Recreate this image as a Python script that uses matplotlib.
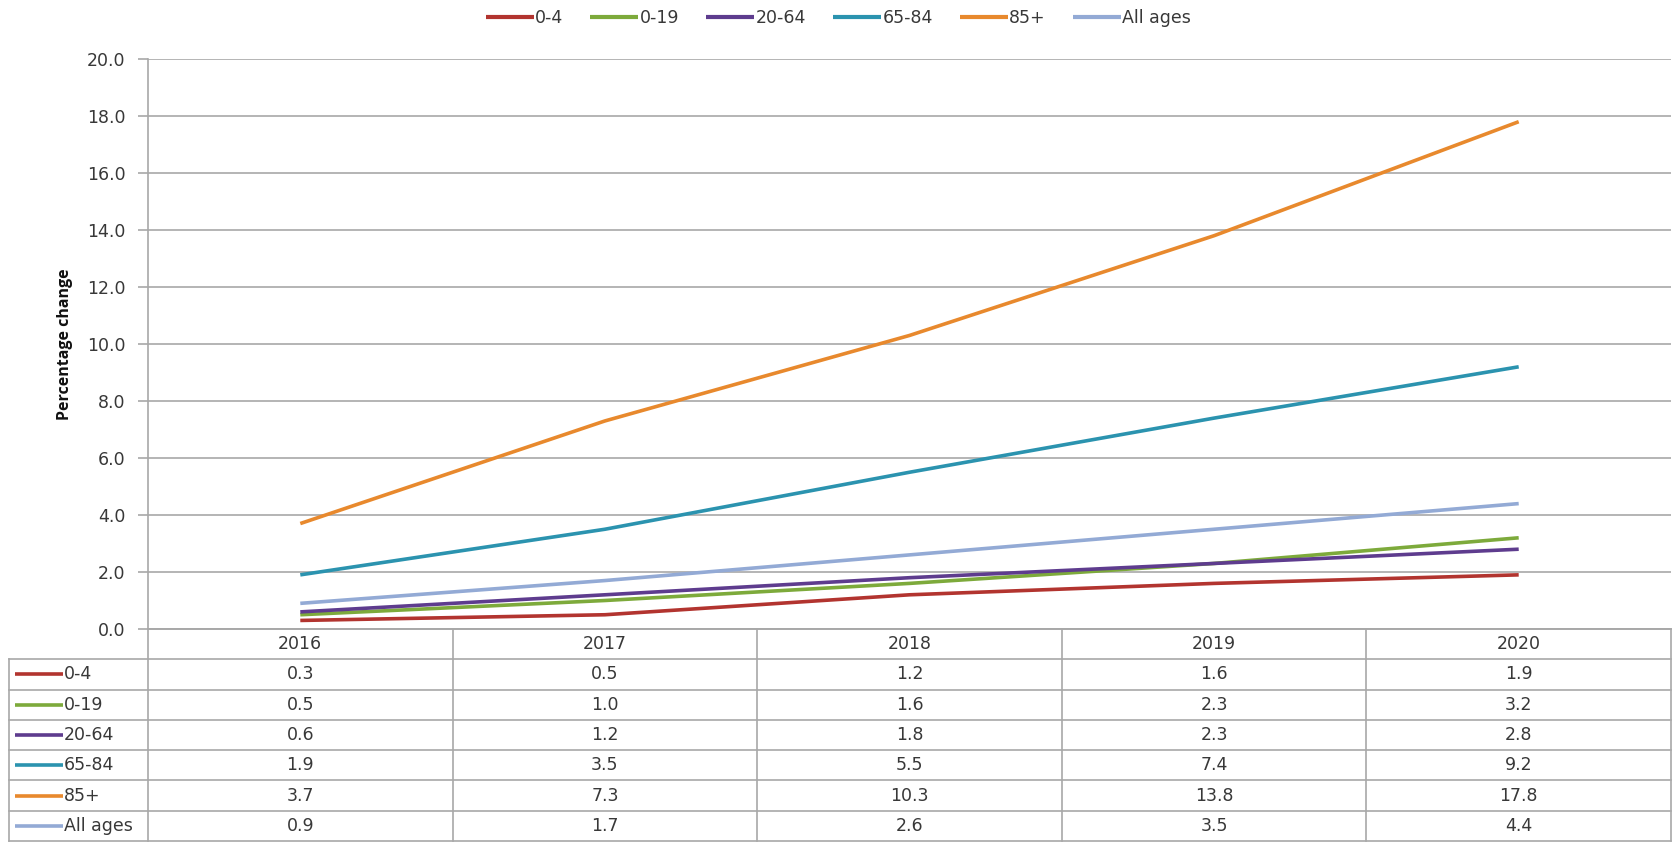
import matplotlib
matplotlib.use("Agg")
import matplotlib.pyplot as plt

# Percentage change in population by age group
years = ["2016", "2017", "2018", "2019", "2020"]
groups = ["0-4", "0-19", "20-64", "65-84", "85+", "All ages"]
v_0_4 = [0.3, 0.5, 1.2, 1.6, 1.9]
v_0_19 = [0.5, 1.0, 1.6, 2.3, 3.2]
v_20_64 = [0.6, 1.2, 1.8, 2.3, 2.8]
v_65_84 = [1.9, 3.5, 5.5, 7.4, 9.2]
v_85p = [3.7, 7.3, 10.3, 13.8, 17.8]
v_all = [0.9, 1.7, 2.6, 3.5, 4.4]
series = [v_0_4, v_0_19, v_20_64, v_65_84, v_85p, v_all]
colors = ["#B2342F", "#7DAA3B", "#5E3C8E", "#2B93AF", "#E8892D", "#93AAD5"]
y_ticks = [0, 2, 4, 6, 8, 10, 12, 14, 16, 18, 20]

plt.rcParams["font.family"] = ["DejaVu Sans"]
FS = 12.5
TXT = "#383838"

W, H = 1677, 844
fig = plt.figure(figsize=(W / 100, H / 100), dpi=100)

# layout in pixels
plot_l, plot_r = 148, 1671
plot_t, plot_b = 59, 629
tab_l, tab_b = 9, 841

ax = fig.add_axes([plot_l / W, 1 - plot_b / H, (plot_r - plot_l) / W, (plot_b - plot_t) / H])
x = list(range(len(years)))
grid_c = "#A8A8A8"

for vals, c, g in zip(series, colors, groups):
    ax.plot(x, vals, color=c, lw=2.6, label=g, solid_capstyle="butt", zorder=3)

ax.set_xlim(-0.5, len(years) - 0.5)
ax.set_ylim(0, 20)
ax.set_yticks(y_ticks)
ax.set_yticklabels([f"{t:.1f}" for t in y_ticks], fontsize=FS, color=TXT)
ax.set_xticks([])
ax.yaxis.grid(True, color=grid_c, lw=1.2)
ax.set_axisbelow(True)
for s in ["top", "right"]:
    ax.spines[s].set_visible(False)
ax.spines["left"].set_color(grid_c)
ax.spines["left"].set_linewidth(1.2)
ax.spines["bottom"].set_color(grid_c)
ax.spines["bottom"].set_linewidth(1.2)
ax.tick_params(axis="y", length=7.2, width=1.2, color=grid_c, pad=9)
ax.set_ylabel("Percentage change", fontsize=11.5, fontweight="bold", color="#111111",
              family=["Open Sans", "DejaVu Sans"], labelpad=10)

leg = fig.legend(*ax.get_legend_handles_labels(), loc="center", bbox_to_anchor=(0.5, 1 - 18 / H),
                 ncol=6, frameon=False, fontsize=FS, handlelength=2.75, handletextpad=0.1,
                 columnspacing=1.55, labelcolor=TXT)
for ln in leg.get_lines():
    ln.set_linewidth(3)

# data table under the chart
tab = fig.add_axes([plot_l / W, 1 - tab_b / H, (plot_r - plot_l) / W, (tab_b - plot_b) / H])
nrows = len(groups) + 1
tab.set_xlim(-0.5, len(years) - 0.5)
tab.set_ylim(nrows, 0)
tab.axis("off")
unit = (plot_r - plot_l) / len(years)
label_left = -0.5 - (plot_l - tab_l) / unit
lk = dict(color=grid_c, lw=1.2, clip_on=False)

# horizontal rules
tab.plot([-0.5, len(years) - 0.5], [0, 0], **lk)
for r in range(1, nrows + 1):
    tab.plot([label_left, len(years) - 0.5], [r, r], **lk)
# vertical rules
tab.plot([label_left, label_left], [1, nrows], **lk)
for i in range(len(years) + 1):
    tab.plot([i - 0.5, i - 0.5], [0, nrows], **lk)

for i, yr in enumerate(years):
    tab.text(i, 0.5, yr, ha="center", va="center", fontsize=FS, color=TXT)

sx0 = label_left + (15 - tab_l) / unit
sx1 = label_left + (63 - tab_l) / unit
for r, (g, vals, c) in enumerate(zip(groups, series, colors), start=1):
    tab.plot([sx0, sx1], [r + 0.5, r + 0.5], color=c, lw=2.6, clip_on=False, solid_capstyle="butt")
    tab.text(sx1 + 0.002, r + 0.5, g, ha="left", va="center", fontsize=FS, color=TXT)
    for i, v in enumerate(vals):
        tab.text(i, r + 0.5, f"{v:.1f}", ha="center", va="center", fontsize=FS, color=TXT)

fig.savefig("out.png", dpi=100)
